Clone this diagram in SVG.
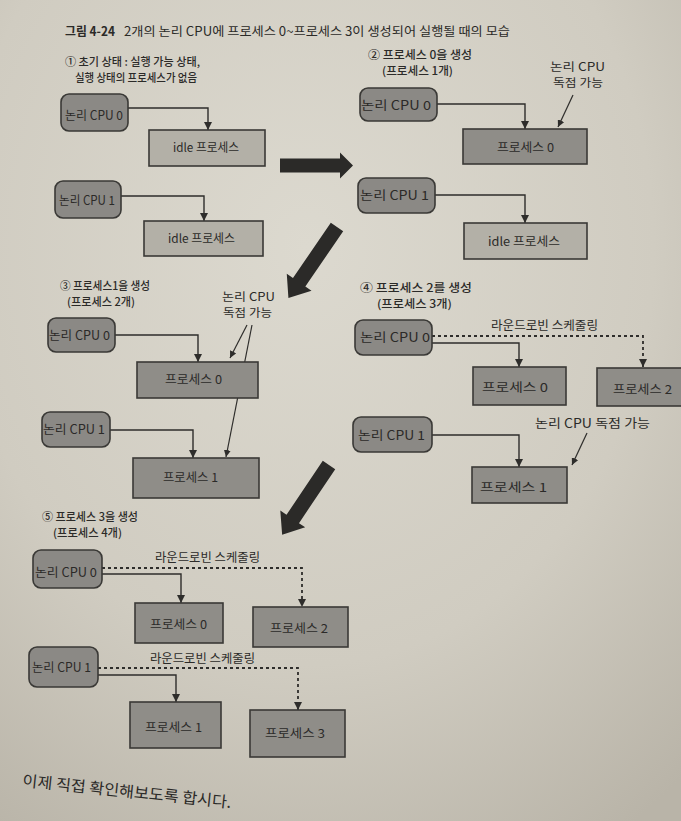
<svg xmlns="http://www.w3.org/2000/svg" width="681" height="821" viewBox="0 0 681 821">
<defs>
<radialGradient id="paper" cx="0.45" cy="0.3" r="0.85">
<stop offset="0" stop-color="#dcd9cf"/>
<stop offset="0.6" stop-color="#d0ccc1"/>
<stop offset="1" stop-color="#b9b4a8"/>
</radialGradient>
<marker id="ah" viewBox="0 0 10 10" refX="10" refY="5" markerWidth="8" markerHeight="8" markerUnits="userSpaceOnUse" orient="auto">
<path d="M0,0 L10,5 L0,10 Z" fill="#2e2d2b"/>
</marker>
<marker id="ahs" viewBox="0 0 10 10" refX="10" refY="5" markerWidth="7" markerHeight="7" markerUnits="userSpaceOnUse" orient="auto">
<path d="M0,0 L10,5 L0,10 Z" fill="#2e2d2b"/>
</marker>
</defs>
<style>
text{font-family:"Noto Sans CJK KR","Noto Sans",sans-serif;fill:#2b2a28}
.cpu{fill:#8b8985;stroke:#3a3936;stroke-width:1.6}
.act{fill:#8f8d88;stroke:#3a3936;stroke-width:1.6}
.idle{fill:#b3b0a7;stroke:#3a3936;stroke-width:1.6}
.lbl{font-size:12.5px}
.ann{font-size:11.5px}
.box{font-size:12px}
.cap{font-size:11px;font-weight:500}
.c{stroke:#2e2d2b;stroke-width:1.4;fill:none}
.d{stroke:#2e2d2b;stroke-width:1.8;fill:none;stroke-dasharray:3 3}
.a{stroke:#2e2d2b;stroke-width:1.2;fill:none}
.big{fill:#2b2a28}
</style>
<rect x="0" y="0" width="681" height="821" fill="url(#paper)"/>

<g id="title">
<text x="65" y="36" font-size="12.5" font-weight="700" textLength="50" lengthAdjust="spacingAndGlyphs">그림 4-24</text>
<text x="124" y="36" font-size="12.5" textLength="386" lengthAdjust="spacingAndGlyphs">2개의 논리 CPU에 프로세스 0~프로세스 3이 생성되어 실행될 때의 모습</text>
</g>

<g id="connectors">
<path class="c" d="M128,108 H208 V130" marker-end="url(#ah)"/>
<path class="c" d="M121,196 H204 V221" marker-end="url(#ah)"/>
<path class="c" d="M437,104 H525 V129" marker-end="url(#ah)"/>
<path class="a" d="M573,95 L558,127" marker-end="url(#ahs)"/>
<path class="c" d="M435,195 H525 V223" marker-end="url(#ah)"/>
<path class="c" d="M115,335 H198 V362" marker-end="url(#ah)"/>
<path class="a" d="M247,325 L230,358" marker-end="url(#ahs)"/>
<path class="c" d="M110,430 H193 V458" marker-end="url(#ah)"/>
<path class="a" d="M252,325 L226,457" marker-end="url(#ahs)"/>
<path class="d" d="M432,336 H643 V367" marker-end="url(#ah)"/>
<path class="c" d="M432,343 H519 V367" marker-end="url(#ah)"/>
<path class="a" d="M587,433 L572,465" marker-end="url(#ahs)"/>
<path class="c" d="M432,435 H519 V467" marker-end="url(#ah)"/>
<path class="d" d="M102,568 H302 V607" marker-end="url(#ah)"/>
<path class="c" d="M102,574 H181 V603" marker-end="url(#ah)"/>
<path class="d" d="M98,668 H298 V710" marker-end="url(#ah)"/>
<path class="c" d="M98,675 H176 V702" marker-end="url(#ah)"/>
<polygon class="big" transform="translate(280,165.5)" points="0,-7 60,-7 60,-13 73,0 60,13 60,7 0,7"/>
<polygon class="big" transform="translate(337,227) rotate(124.4)" points="0,-7.5 67,-7.5 67,-15 86,0 67,15 67,7.5 0,7.5"/>
<polygon class="big" transform="translate(329,465) rotate(123.9)" points="0,-7.5 65,-7.5 65,-15 84,0 65,15 65,7.5 0,7.5"/>
</g>

<g id="panel1">
<text class="cap" x="65" y="66" textLength="135" lengthAdjust="spacingAndGlyphs">① 초기 상태 : 실행 가능 상태,</text>
<text class="cap" x="75" y="82" textLength="122" lengthAdjust="spacingAndGlyphs">실행 상태의 프로세스가 없음</text>
<g id="p1-cpu0"><rect class="cpu" x="61" y="94" width="67" height="37" rx="8"/><text class="lbl" x="65" y="119.5" textLength="58" lengthAdjust="spacingAndGlyphs">논리 CPU 0</text></g>
<g id="p1-idle0"><rect class="idle" x="149" y="130" width="116" height="36"/><text class="box" x="173" y="151.5" textLength="66" lengthAdjust="spacingAndGlyphs">idle 프로세스</text></g>
<g id="p1-cpu1"><rect class="cpu" x="55" y="181" width="66" height="37" rx="8"/><text class="lbl" x="59" y="204.5" textLength="56" lengthAdjust="spacingAndGlyphs">논리 CPU 1</text></g>
<g id="p1-idle1"><rect class="idle" x="144" y="221" width="119" height="35"/><text class="box" x="168" y="242.5" textLength="67" lengthAdjust="spacingAndGlyphs">idle 프로세스</text></g>
</g>

<g id="panel2">
<text class="cap" x="368" y="59" textLength="104" lengthAdjust="spacingAndGlyphs">② 프로세스 0을 생성</text>
<text class="cap" x="382" y="75" textLength="71" lengthAdjust="spacingAndGlyphs">(프로세스 1개)</text>
<text class="ann" x="577.5" y="70.5" text-anchor="middle" textLength="55" lengthAdjust="spacingAndGlyphs">논리 CPU</text>
<text class="ann" x="578" y="87" text-anchor="middle" textLength="50" lengthAdjust="spacingAndGlyphs">독점 가능</text>
<g id="p2-cpu0"><rect class="cpu" x="360" y="88" width="77" height="33" rx="8"/><text class="lbl" x="361" y="109.5" textLength="70" lengthAdjust="spacingAndGlyphs">논리 CPU 0</text></g>
<g id="p2-proc0"><rect class="act" x="463" y="129" width="124" height="35"/><text class="box" x="497" y="151.5" textLength="57" lengthAdjust="spacingAndGlyphs">프로세스 0</text></g>
<g id="p2-cpu1"><rect class="cpu" x="358" y="178" width="77" height="35" rx="8"/><text class="lbl" x="360" y="199.5" textLength="69" lengthAdjust="spacingAndGlyphs">논리 CPU 1</text></g>
<g id="p2-idle1"><rect class="idle" x="464" y="223" width="123" height="36"/><text class="box" x="488" y="245.5" textLength="72" lengthAdjust="spacingAndGlyphs">idle 프로세스</text></g>
</g>

<g id="panel3">
<text class="cap" x="60" y="290" textLength="90" lengthAdjust="spacingAndGlyphs">③ 프로세스1을 생성</text>
<text class="cap" x="67" y="306" textLength="68" lengthAdjust="spacingAndGlyphs">(프로세스 2개)</text>
<text class="ann" x="248.5" y="300.5" text-anchor="middle" textLength="53" lengthAdjust="spacingAndGlyphs">논리 CPU</text>
<text class="ann" x="247.5" y="317" text-anchor="middle" textLength="49" lengthAdjust="spacingAndGlyphs">독점 가능</text>
<g id="p3-cpu0"><rect class="cpu" x="48" y="318" width="67" height="34" rx="8"/><text class="lbl" x="49" y="339.5" textLength="61" lengthAdjust="spacingAndGlyphs">논리 CPU 0</text></g>
<g id="p3-proc0"><rect class="act" x="137" y="362" width="121" height="36"/><text class="box" x="165" y="383.5" textLength="57" lengthAdjust="spacingAndGlyphs">프로세스 0</text></g>
<g id="p3-cpu1"><rect class="cpu" x="42" y="412" width="68" height="35" rx="8"/><text class="lbl" x="43" y="433.5" textLength="62" lengthAdjust="spacingAndGlyphs">논리 CPU 1</text></g>
<g id="p3-proc1"><rect class="act" x="133" y="458" width="126" height="40"/><text class="box" x="163" y="481.5" textLength="55" lengthAdjust="spacingAndGlyphs">프로세스 1</text></g>
</g>

<g id="panel4">
<text class="cap" x="360" y="292" textLength="112" lengthAdjust="spacingAndGlyphs">④ 프로세스 2를 생성</text>
<text class="cap" x="377" y="308" textLength="75" lengthAdjust="spacingAndGlyphs">(프로세스 3개)</text>
<text class="lbl" x="491" y="330" textLength="107" lengthAdjust="spacingAndGlyphs">라운드로빈 스케줄링</text>
<text class="lbl" x="535" y="427.5" textLength="115" lengthAdjust="spacingAndGlyphs">논리 CPU 독점 가능</text>
<g id="p4-cpu0"><rect class="cpu" x="355" y="320" width="77" height="35" rx="8"/><text class="lbl" x="360" y="341.5" textLength="70" lengthAdjust="spacingAndGlyphs">논리 CPU 0</text></g>
<g id="p4-proc0"><rect class="act" x="473" y="367" width="93" height="38"/><text class="box" x="482" y="391.5" textLength="66" lengthAdjust="spacingAndGlyphs">프로세스 0</text></g>
<g id="p4-proc2"><rect class="act" x="597" y="368" width="90" height="38"/><text class="box" x="613" y="393.5" textLength="59" lengthAdjust="spacingAndGlyphs">프로세스 2</text></g>
<g id="p4-cpu1"><rect class="cpu" x="353" y="417" width="79" height="35" rx="8"/><text class="lbl" x="358" y="439.5" textLength="67" lengthAdjust="spacingAndGlyphs">논리 CPU 1</text></g>
<g id="p4-proc1"><rect class="act" x="472" y="467" width="95" height="36"/><text class="box" x="480" y="491.5" textLength="67" lengthAdjust="spacingAndGlyphs">프로세스 1</text></g>
</g>

<g id="panel5">
<text class="cap" x="42" y="521" textLength="96" lengthAdjust="spacingAndGlyphs">⑤ 프로세스 3을 생성</text>
<text class="cap" x="53" y="537" textLength="69" lengthAdjust="spacingAndGlyphs">(프로세스 4개)</text>
<text class="lbl" x="155" y="562" textLength="105" lengthAdjust="spacingAndGlyphs">라운드로빈 스케줄링</text>
<text class="lbl" x="150" y="662.5" textLength="105" lengthAdjust="spacingAndGlyphs">라운드로빈 스케줄링</text>
<g id="p5-cpu0"><rect class="cpu" x="33" y="550" width="69" height="38" rx="8"/><text class="lbl" x="35" y="576.5" textLength="62" lengthAdjust="spacingAndGlyphs">논리 CPU 0</text></g>
<g id="p5-proc0"><rect class="act" x="135" y="603" width="88" height="40"/><text class="box" x="150" y="628.5" textLength="57" lengthAdjust="spacingAndGlyphs">프로세스 0</text></g>
<g id="p5-proc2"><rect class="act" x="253" y="607" width="95" height="40"/><text class="box" x="270" y="632.5" textLength="58" lengthAdjust="spacingAndGlyphs">프로세스 2</text></g>
<g id="p5-cpu1"><rect class="cpu" x="29" y="647" width="69" height="40" rx="8"/><text class="lbl" x="32" y="671.5" textLength="59" lengthAdjust="spacingAndGlyphs">논리 CPU 1</text></g>
<g id="p5-proc1"><rect class="act" x="130" y="702" width="91" height="46"/><text class="box" x="145" y="731.5" textLength="57" lengthAdjust="spacingAndGlyphs">프로세스 1</text></g>
<g id="p5-proc3"><rect class="act" x="250" y="710" width="95" height="47"/><text class="box" x="265" y="737.5" textLength="60" lengthAdjust="spacingAndGlyphs">프로세스 3</text></g>
</g>

<g id="footer">
<text x="22" y="786" font-size="15.5" transform="rotate(6 22 786)" textLength="210" lengthAdjust="spacingAndGlyphs">이제 직접 확인해보도록 합시다.</text>
</g>
</svg>
